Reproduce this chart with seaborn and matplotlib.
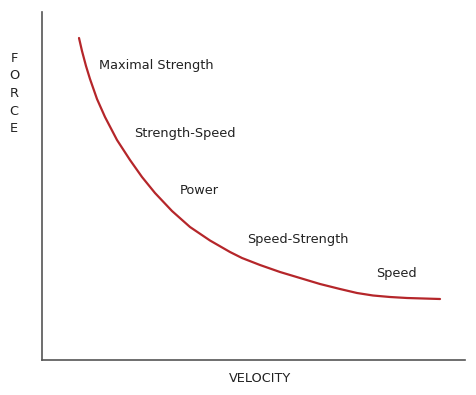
import matplotlib
matplotlib.use("Agg")
import matplotlib.pyplot as plt
import seaborn as sns
import pandas as pd

# force-velocity curve (arbitrary units)
velocity = [37, 40, 44, 48, 55, 63, 75, 88, 100, 113, 130, 148, 168, 188, 200, 218, 238, 258,
            278, 298, 315, 331, 348, 365, 398]
force = [322, 309, 294, 281, 261, 243, 220, 200, 183, 167, 149, 133, 119.5, 108, 102, 95, 88, 82,
         76, 71, 67, 64.5, 63, 62, 61]

zones = ["Maximal Strength", "Strength-Speed", "Power", "Speed-Strength", "Speed"]
zone_x = [57, 92, 138, 205, 334]
zone_y = [295, 227, 169, 120, 86]

df = pd.DataFrame({"Velocity": velocity, "Force": force})

sns.set_style("white")
plt.rcParams["font.family"] = ["DejaVu Sans"]

fig = plt.figure(figsize=(4.77, 3.95), dpi=100)
ax = fig.add_axes([42 / 477, 35 / 395, 423 / 477, 348 / 395])

sns.lineplot(data=df, x="Velocity", y="Force", ax=ax, color="#b5262a", linewidth=1.6,
             solid_joinstyle="round", solid_capstyle="round")

for name, x, y in zip(zones, zone_x, zone_y):
    ax.text(x, y, name, fontsize=9.3, color="#222222", va="center", ha="left")

ax.set_xlim(0, 423)
ax.set_ylim(0, 348)
ax.set_xticks([])
ax.set_yticks([])
ax.set_xlabel("")
ax.set_ylabel("")
sns.despine(ax=ax)
for s in ["left", "bottom"]:
    ax.spines[s].set_color("#555555")
    ax.spines[s].set_linewidth(1.2)

fig.text(260 / 477, 1 - 378 / 395, "VELOCITY", fontsize=9.3, ha="center", va="center", color="#222222")
fig.text(14 / 477, 1 - 93.5 / 395, "F\nO\nR\nC\nE", fontsize=9.3, ha="center", va="center",
         color="#222222", linespacing=1.47)

fig.savefig("out.png", dpi=100)
